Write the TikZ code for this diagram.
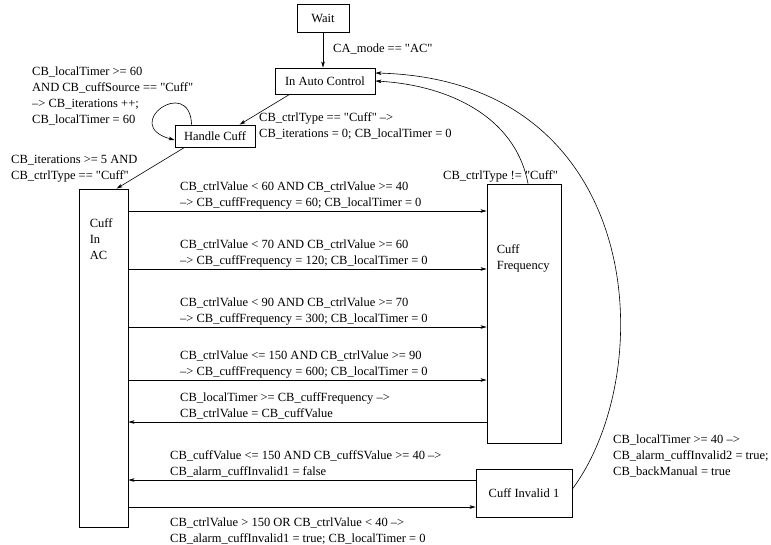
\documentclass[tikz,border=0pt]{standalone}
\usepackage{fontspec}
\setmainfont{Liberation Serif}[Ligatures=TeXOff]
\usetikzlibrary{positioning,arrows.meta}

\begin{document}
\begin{tikzpicture}[x=1pt,y=-1pt,font=\fontsize{12.5}{16}\selectfont,
  state/.style={draw,line width=.8pt,inner sep=0pt},
  lbl/.style={anchor=north west,align=left,inner sep=0pt},
  arr/.style={line width=.6pt,-{Stealth[length=6pt,width=3.6pt,inset=1.5pt]}}]
\useasboundingbox (0,0) rectangle (771,544);
% States; the two tall ones carry their names near the top.
\node[state,minimum width=52,minimum height=28] (wait) at (323,18) {Wait};
\node[state,minimum width=100,minimum height=26] (iac) at (325,81) {In Auto Control};
\node[state,minimum width=80,minimum height=22] (hc) at (215,136) {Handle Cuff};
\node[state,minimum width=49,minimum height=338] (ac) at (103.5,358) {};
\node[state,minimum width=74,minimum height=259] (cf) at (524,313.5) {};
\node[state,minimum width=96,minimum height=48] (ci1) at (524,493) {Cuff Invalid 1};
\node[lbl,below right=29.5pt and 11pt of ac.north west] (acname) {Cuff\\In\\AC};
\node[lbl,below right=60.5pt and 10pt of cf.north west] (cfname) {Cuff\\Frequency};
% Entry chain: Wait -> In Auto Control -> Handle Cuff -> Cuff In AC.
\draw[arr] (wait.south) -- (wait.south |- iac.north);
\node[lbl] (tmode) at (333,43.5) {CA\_mode == "AC"};
\draw[arr] ([xshift=15pt]iac.south west) -- ([xshift=65pt]hc.north west);
\node[lbl] (tcuff) at (259,112.5) {CB\_ctrlType == "Cuff" \textendash>\\CB\_iterations = 0; CB\_localTimer = 0};
\draw[arr] ([xshift=17pt]hc.north west) .. controls +(-2,-50) and +(-55,-15) .. ([yshift=-4pt]hc.west);
\node[lbl] (tloop) at (32,66.5) {CB\_localTimer >= 60\\AND CB\_cuffSource == "Cuff"\\\textendash> CB\_iterations ++;\\CB\_localTimer = 60};
\draw[arr] ([xshift=10pt]hc.south west) -- ([xshift=38pt]ac.north west);
\node[lbl] (titer) at (11,155.5) {CB\_iterations >= 5 AND\\CB\_ctrlType == "Cuff"};
% Frequency bands: Cuff In AC -> Cuff Frequency.
\foreach \n/\y/\op/\hi/\lo/\freq in {1/211/</60/40/60,2/269/</70/60/120,3/327/</90/70/300,4/380/<=/150/90/600}{
  \coordinate (r\n) at (0,\y);
  \draw[arr] (ac.east |- r\n) -- (cf.west |- r\n);
  \node[lbl] (t\n) at (180,\y-29.5) {CB\_ctrlValue \op\ \hi\ AND CB\_ctrlValue >= \lo\\\textendash> CB\_cuffFrequency = \freq; CB\_localTimer = 0};
}
\coordinate (r5) at (0,422);
\draw[arr] (cf.west |- r5) -- (ac.east |- r5);
\node[lbl] (t5) at (180,392.5) {CB\_localTimer >= CB\_cuffFrequency \textendash>\\CB\_ctrlValue = CB\_cuffValue};
% Invalid reading and recovery.
\coordinate (r6) at (0,480);
\draw[arr] (ci1.west |- r6) -- (ac.east |- r6);
\node[lbl] (t6) at (170,450.5) {CB\_cuffValue <= 150 AND CB\_cuffSValue >= 40 \textendash>\\CB\_alarm\_cuffInvalid1 = false};
\coordinate (r7) at (0,507);
\draw[arr] (ac.east |- r7) -- (ci1.west |- r7);
\node[lbl] (t7) at (170,517.5) {CB\_ctrlValue > 150 OR CB\_ctrlValue < 40 \textendash>\\CB\_alarm\_cuffInvalid1 = true; CB\_localTimer = 0};
% Returns to In Auto Control.
\draw[arr] ([xshift=4pt]cf.north) .. controls +(-13,-69) and +(70,4) .. (iac.east);
\node[lbl] (tback) at (443,170.5) {CB\_ctrlType != "Cuff"};
\draw[arr] ([yshift=4pt]ci1.east) .. controls +(88,-119) and +(270,7) .. ([yshift=8pt]iac.east);
\node[lbl] (tmanual) at (613,434.5) {CB\_localTimer >= 40 \textendash>\\CB\_alarm\_cuffInvalid2 = true;\\CB\_backManual = true};
\end{tikzpicture}
\end{document}
